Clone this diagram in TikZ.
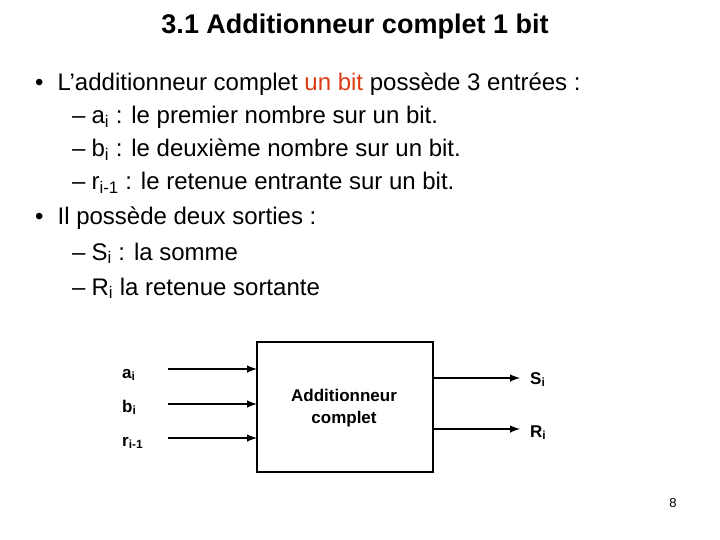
\documentclass[tikz,border=0pt]{standalone}
\usepackage{fontspec}
\setmainfont{Liberation Sans}
\usetikzlibrary{positioning}
\tikzset{>=latex}
\newcommand{\sub}[1]{\textsubscript{#1}}
\begin{document}
\begin{tikzpicture}[x=1pt,y=-1pt,
  line/.style={anchor=base west,font=\fontsize{24}{26}\selectfont,inner sep=0pt},
  lbl/.style={anchor=base west,font=\bfseries\fontsize{17}{20}\selectfont,inner sep=0pt},
  wire/.style={->,line width=2.4pt}]
  \useasboundingbox (0,0) rectangle (720,540);
  % Title
  \node[font=\bfseries\fontsize{27}{30}\selectfont,anchor=base] (title) at (355,34) {3.1 Additionneur complet 1 bit};
  % Bullets
  \node[line] (l1) at (35,91) {•\hspace{14pt}L’additionneur complet \textcolor[RGB]{220,60,20}{un bit} possède 3 entrées :};
  \node[line] (l2) at (72,124) {–\hspace{6pt}a\sub{i} : le premier nombre sur un bit.};
  \node[line] (l3) at (72,157) {–\hspace{6pt}b\sub{i} : le deuxième nombre sur un bit.};
  \node[line] (l4) at (72,190) {–\hspace{6pt}r\sub{i-1} : le retenue entrante sur un bit.};
  \node[line] (l5) at (35,225) {•\hspace{14pt}Il possède deux sorties :};
  \node[line] (l6) at (72,260) {–\hspace{6pt}S\sub{i} : la somme};
  \node[line] (l7) at (72,295) {–\hspace{6pt}R\sub{i} la retenue sortante};
  % Block
  \draw[line width=2.4pt] (257,342) rectangle (433,472);
  \node[font=\bfseries\fontsize{17}{22}\selectfont,align=center] (add) at (344,408) {Additionneur\\complet};
  % Inputs
  \coordinate (ia) at (168,369); \coordinate (ib) at (168,404); \coordinate (ir) at (168,438);
  \coordinate (ja) at (257,369); \coordinate (jb) at (257,404); \coordinate (jr) at (257,438);
  \draw[wire] (ia) -- (ja);
  \draw[wire] (ib) -- (jb);
  \draw[wire] (ir) -- (jr);
  \node[lbl] (a) at (122,378) {a\sub{i}};
  \node[lbl] (b) at (122,412) {b\sub{i}};
  \node[lbl] (r) at (122,446) {r\sub{i-1}};
  % Outputs
  \coordinate (os) at (433,378); \coordinate (or) at (433,429);
  \coordinate (ps) at (520,378); \coordinate (pr) at (520,429);
  \draw[wire] (os) -- (ps);
  \draw[wire] (or) -- (pr);
  \node[lbl] (s) at (530,384) {S\sub{i}};
  \node[lbl] (R) at (530,437) {R\sub{i}};
  % Page number
  \node[font=\fontsize{13}{15}\selectfont] (page) at (673,503) {8};
\end{tikzpicture}
\end{document}
